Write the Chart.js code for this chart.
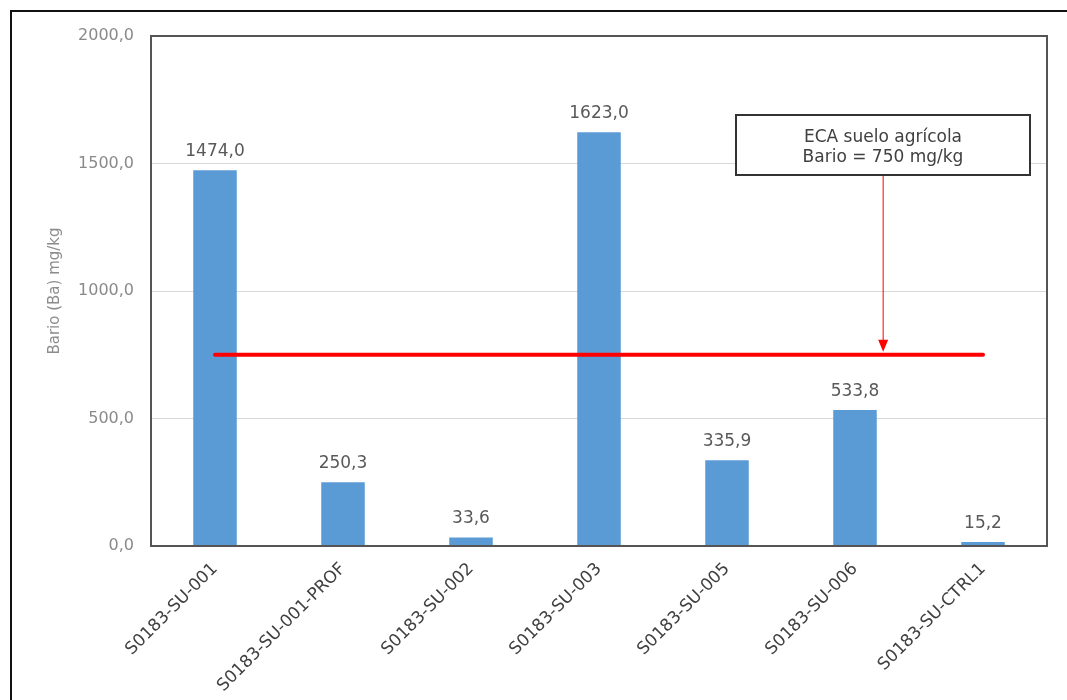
<!DOCTYPE html>
<html>
<head>
<meta charset="utf-8">
<script src="https://cdn.jsdelivr.net/npm/chart.js@4.4.0/dist/chart.umd.min.js"></script>
<style>
  html, body { margin: 0; padding: 0; background: #fff; }
  #wrap { width: 1067px; height: 700px; position: relative; }
</style>
</head>
<body>
<div id="wrap"><canvas id="bario"></canvas></div>
<script>
// muestras y concentraciones de bario (mg/kg)
const muestras = ['S0183-SU-001', 'S0183-SU-001-PROF', 'S0183-SU-002', 'S0183-SU-003', 'S0183-SU-005', 'S0183-SU-006', 'S0183-SU-CTRL1'];
const bario = [1474.0, 250.3, 33.6, 1623.0, 335.9, 533.8, 15.2];
const ecaBario = 750;
const ecaTexto = ['ECA suelo agrícola', 'Bario = 750 mg/kg'];
const yTicks = [0, 500, 1000, 1500, 2000];

const fuente = '"DejaVu Sans", Verdana, sans-serif';

function formatoComa(v) {
  return v.toFixed(1).replace('.', ',');
}

// marco exterior, caja del area de trazado, etiquetas y la nota del ECA
const extras = {
  id: 'extras',
  beforeDraw(chart) {
    const ctx = chart.ctx;
    ctx.save();
    ctx.fillStyle = '#fff';
    ctx.fillRect(0, 0, chart.width, chart.height);
    ctx.strokeStyle = '#111';
    ctx.lineWidth = 2;
    ctx.strokeRect(11, 11, chart.width + 20, chart.height + 20);
    ctx.restore();
  },
  afterDatasetsDraw(chart) {
    const ctx = chart.ctx;
    const a = chart.chartArea;
    ctx.save();

    // valores sobre las barras
    const meta = chart.getDatasetMeta(0);
    ctx.font = '17px ' + fuente;
    ctx.fillStyle = '#595959';
    ctx.textAlign = 'center';
    ctx.textBaseline = 'alphabetic';
    meta.data.forEach((bar, i) => {
      ctx.fillText(formatoComa(bario[i]), bar.x, bar.y - 14);
    });

    // borde del area de trazado
    ctx.strokeStyle = '#555';
    ctx.lineWidth = 2;
    ctx.strokeRect(a.left, a.top, a.right - a.left, a.bottom - a.top);

    // caja de texto y flecha hacia la linea del ECA
    const bx = 736, by = 115, bw = 294, bh = 60;
    const ax = chart.scales.x.getPixelForValue(5.22);
    const ay = chart.scales.y.getPixelForValue(ecaBario) - 3;
    ctx.strokeStyle = '#ff0000';
    ctx.lineWidth = 1;
    ctx.beginPath();
    ctx.moveTo(ax, by + bh);
    ctx.lineTo(ax, ay - 10);
    ctx.stroke();
    ctx.fillStyle = '#ff0000';
    ctx.beginPath();
    ctx.moveTo(ax - 5, ay - 12);
    ctx.lineTo(ax + 5, ay - 12);
    ctx.lineTo(ax, ay);
    ctx.closePath();
    ctx.fill();

    ctx.fillStyle = '#fff';
    ctx.fillRect(bx, by, bw, bh);
    ctx.strokeStyle = '#333';
    ctx.lineWidth = 2;
    ctx.strokeRect(bx, by, bw, bh);
    ctx.fillStyle = '#404040';
    ctx.font = '17px ' + fuente;
    ctx.fillText(ecaTexto[0], bx + bw / 2, by + 27);
    ctx.fillText(ecaTexto[1], bx + bw / 2, by + 47);
    ctx.restore();
  }
};

new Chart(document.getElementById('bario'), {
  data: {
    labels: muestras,
    datasets: [
      {
        type: 'bar',
        data: bario,
        backgroundColor: '#5b9bd5',
        categoryPercentage: 1,
        barPercentage: 0.34,
        order: 2
      },
      {
        type: 'line',
        data: muestras.map(() => ecaBario),
        borderColor: '#ff0000',
        borderWidth: 4,
        borderCapStyle: 'round',
        pointRadius: 0,
        order: 1
      }
    ]
  },
  options: {
    responsive: true,
    maintainAspectRatio: false,
    animation: false,
    layout: { padding: { top: 36, right: 20, left: 0, bottom: 0 } },
    plugins: {
      legend: { display: false },
      tooltip: { enabled: false }
    },
    scales: {
      x: {
        afterFit(scale) { scale.height = 154; },
        grid: { display: false, drawTicks: false },
        border: { display: false },
        ticks: {
          minRotation: 45,
          maxRotation: 45,
          padding: 13,
          color: '#404040',
          font: { family: fuente, size: 17 }
        }
      },
      y: {
        min: 0,
        max: 2000,
        afterFit(scale) { scale.width = 151; },
        afterBuildTicks(scale) { scale.ticks = yTicks.map(v => ({ value: v })); },
        grid: { color: '#d9d9d9', lineWidth: 1, drawTicks: false },
        border: { display: false },
        ticks: {
          padding: 17,
          color: '#8a8a8a',
          font: { family: fuente, size: 16 },
          callback: v => formatoComa(v)
        },
        title: {
          display: true,
          text: 'Bario (Ba) mg/kg',
          color: '#8c8c8c',
          font: { family: fuente, size: 15 },
          padding: { top: 46, bottom: 0 }
        }
      }
    }
  },
  plugins: [extras]
});
</script>
</body>
</html>
